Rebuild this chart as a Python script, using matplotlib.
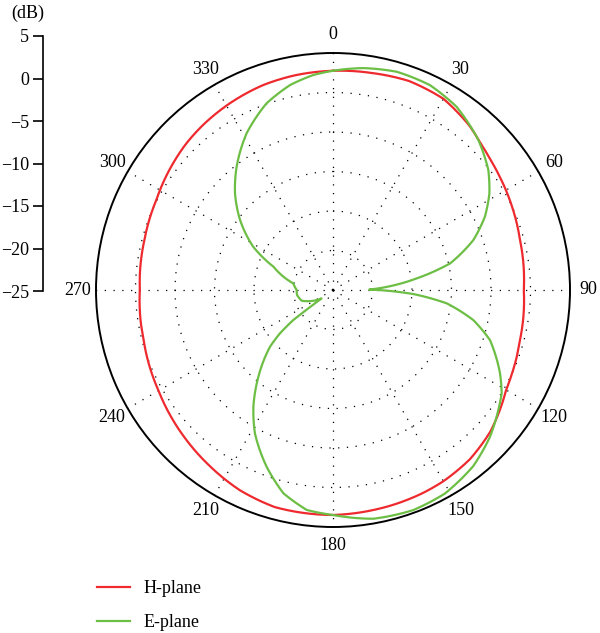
import numpy as np
import matplotlib
matplotlib.use("Agg")
import matplotlib.pyplot as plt
from matplotlib.lines import Line2D

# ---------------- data ----------------
h_theta_deg = [0, 10, 20, 30, 40, 45, 50, 56, 65, 75, 90, 105, 115, 120, 124, 132,
               141, 150, 156, 165, 170, 180, 195, 205, 215, 225, 240, 255, 270, 285,
               297, 315, 322, 331, 341, 350, 360]
h_db = [2.75, 2.9, 3.15, 2.95, 2.0, 1.35, 0.9, 0.5, 0.0, -0.5, -0.85, -0.5, 0.0, 0.3,
        0.8, 1.8, 2.55, 2.95, 3.1, 3.25, 3.32, 3.48, 3.45, 2.95, 2.2, 1.5, 0.5, -0.2,
        -0.55, -0.3, 0.1, 1.25, 1.6, 2.0, 2.4, 2.6, 2.75]

e_theta_deg = [0, 7.8, 16.3, 25.3, 34, 44.1, 52.3, 58.3, 64.2, 70.4, 77.2, 82.1, 89.3,
               92.9, 96.7, 102.1, 107.7, 116.5, 121.5, 126, 133, 141.5, 151.2, 160,
               170, 180, 186.8, 193.7, 200.6, 208.6, 214.3, 220.7, 228, 230.7, 232.9,
               233.7, 251.2, 262.2, 270, 279.5, 291.4, 298.5, 307, 314.6, 322, 331.1,
               340.4, 348.2, 354.8, 360]
e_db = [2.75, 3.35, 3.78, 3.69, 2.97, 1.44, -0.15, -1.73, -3.64, -6.14, -9.8, -14.3,
        -20.4, -14.8, -10.5, -6.84, -4.14, -1.38, 0.04, 0.86, 2.19, 3.5, 4.4, 4.65,
        4.4, 3.48, 3.04, 1.49, -1.11, -4.35, -7.12, -10.52, -14.28, -16.3, -18.7,
        -23.2, -20.8, -20.4, -20.4, -19.9, -16.9, -13.5, -10.27, -7.58, -5.19, -2.36,
        0.08, 1.51, 2.33, 2.75]

angle_ticks = [0, 30, 60, 90, 120, 150, 180, 210, 240, 270, 300, 330]
angle_labels = ["0", "30", "60", "90", "120", "150", "180", "210", "240", "270", "300", "330"]
r_ticks = [-25, -20, -15, -10, -5, 0, 5]
r_labels = ["\u221225", "\u221220", "\u221215", "\u221210", "\u22125", "0", "5"]

red = "#EE2A2F"
green = "#6DBE45"

plt.rcParams["font.family"] = ["Liberation Serif", "DejaVu Serif"]
plt.rcParams["font.size"] = 13

W, H = 600, 633
fig = plt.figure(figsize=(W / 100, H / 100), dpi=100)

# polar axes: centre (333,290) px, radius 237 px
cx, cy, R = 333, 290, 237
ax = fig.add_axes([(cx - R) / W, (H - cy - R) / H, 2 * R / W, 2 * R / H],
                  projection="polar")
ax.set_theta_zero_location("N")
ax.set_theta_direction(-1)
ax.set_ylim(-25, 5)

lh, = ax.plot(np.deg2rad(h_theta_deg), h_db, color=red, lw=1.6, zorder=4)
le, = ax.plot(np.deg2rad(e_theta_deg), e_db, color=green, lw=1.6, zorder=5)
# let the polar transform draw each segment as a curve in (theta, r)
for ln in (lh, le):
    ln.get_path()._interpolation_steps = 40

ax.set_xticks(np.deg2rad(angle_ticks))
ax.set_xticklabels(angle_labels)
ax.set_xticks(np.deg2rad(np.arange(0, 360, 5)), minor=True)
ax.tick_params(axis="x", which="major", direction="in", length=7, width=1.0,
               pad=6, labelsize=13, colors="black")
ax.tick_params(axis="x", which="minor", direction="in", length=4, width=0.8)
ax.set_yticks([-20, -15, -10, -5, 0])
ax.set_yticklabels([])
ax.grid(True, color="black", linestyle=(0, (1, 6)), linewidth=0.9)
ax.spines["polar"].set_linewidth(1.4)
ax.spines["polar"].set_color("black")

# separate dB scale on the left
lax = fig.add_axes([43 / W, (H - 291) / H, 0.001, (291 - 36) / H])
lax.set_ylim(-25, 5)
lax.set_yticks(r_ticks)
lax.set_yticklabels(r_labels)
lax.set_xticks([])
for s in ["top", "right", "bottom"]:
    lax.spines[s].set_visible(False)
lax.spines["left"].set_linewidth(1.2)
lax.tick_params(axis="y", direction="out", length=7, width=1.2, pad=3, labelsize=13)
lax.patch.set_alpha(0)
fig.text(28 / W, 1 - 13 / H, "(dB)", ha="center", va="center", fontsize=13)

# legend
handles = [Line2D([], [], color=red, lw=1.6), Line2D([], [], color=green, lw=1.6)]
fig.legend(handles, ["H-plane", "E-plane"], loc="upper left",
           bbox_to_anchor=(97 / W, 1 - 580 / H), frameon=False, borderpad=0,
           borderaxespad=0, handlelength=1.85, handletextpad=0.75,
           labelspacing=0.95, fontsize=13)

fig.savefig("out.png", dpi=100)
